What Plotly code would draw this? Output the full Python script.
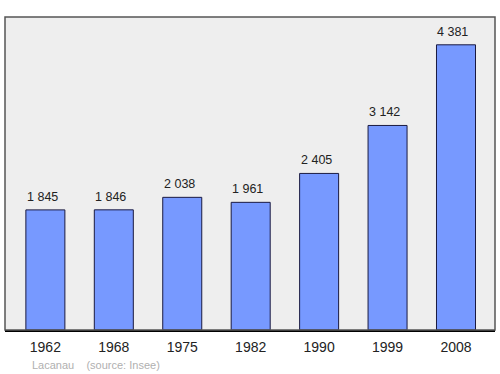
import plotly.graph_objects as go

years = ["1962", "1968", "1975", "1982", "1990", "1999", "2008"]
population = [1845, 1846, 2038, 1961, 2405, 3142, 4381]
labels = ["1 845", "1 846", "2 038", "1 961", "2 405", "3 142", "4 381"]

fig = go.Figure()
fig.add_trace(go.Bar(
    x=years, y=population, width=0.57,
    marker=dict(color="#7799ff", line=dict(color="#1a1a40", width=1)),
    hoverinfo="skip",
))
for i, (v, t) in enumerate(zip(population, labels)):
    fig.add_annotation(x=i, y=v, text=t, showarrow=False, yanchor="bottom",
                       yshift=4, xshift=-3,
                       font=dict(size=12.5, color="#222", family="Liberation Sans, Arial"))

fig.add_annotation(xref="paper", yref="paper", x=0.05, y=-0.085, xanchor="left",
                   yanchor="top", showarrow=False,
                   text="Lacanau&nbsp;&nbsp;&nbsp;&nbsp;(source: Insee)",
                   font=dict(size=11, color="#b0b0b0", family="Liberation Sans, Arial"))

fig.add_shape(type="rect", xref="paper", yref="paper", x0=0, y0=0, x1=1, y1=1,
              line=dict(color="#555555", width=1.5), layer="above")

fig.update_layout(
    width=500, height=374,
    margin=dict(l=5, r=5, t=17, b=44),
    paper_bgcolor="white", plot_bgcolor="#eeeeee",
    showlegend=False,
    bargap=0.43,
    xaxis=dict(type="category", range=[-0.59, 6.57], showgrid=False, zeroline=False,
               ticks="outside", ticklen=3, tickcolor="rgba(0,0,0,0)",
               tickfont=dict(size=14, color="#222", family="Liberation Sans, Arial"),
               showline=True, linecolor="#000", linewidth=1.5),
    yaxis=dict(range=[0, 4808], showgrid=False, zeroline=False, showticklabels=False,
               ticks=""),
)
fig.write_html("out.html")
